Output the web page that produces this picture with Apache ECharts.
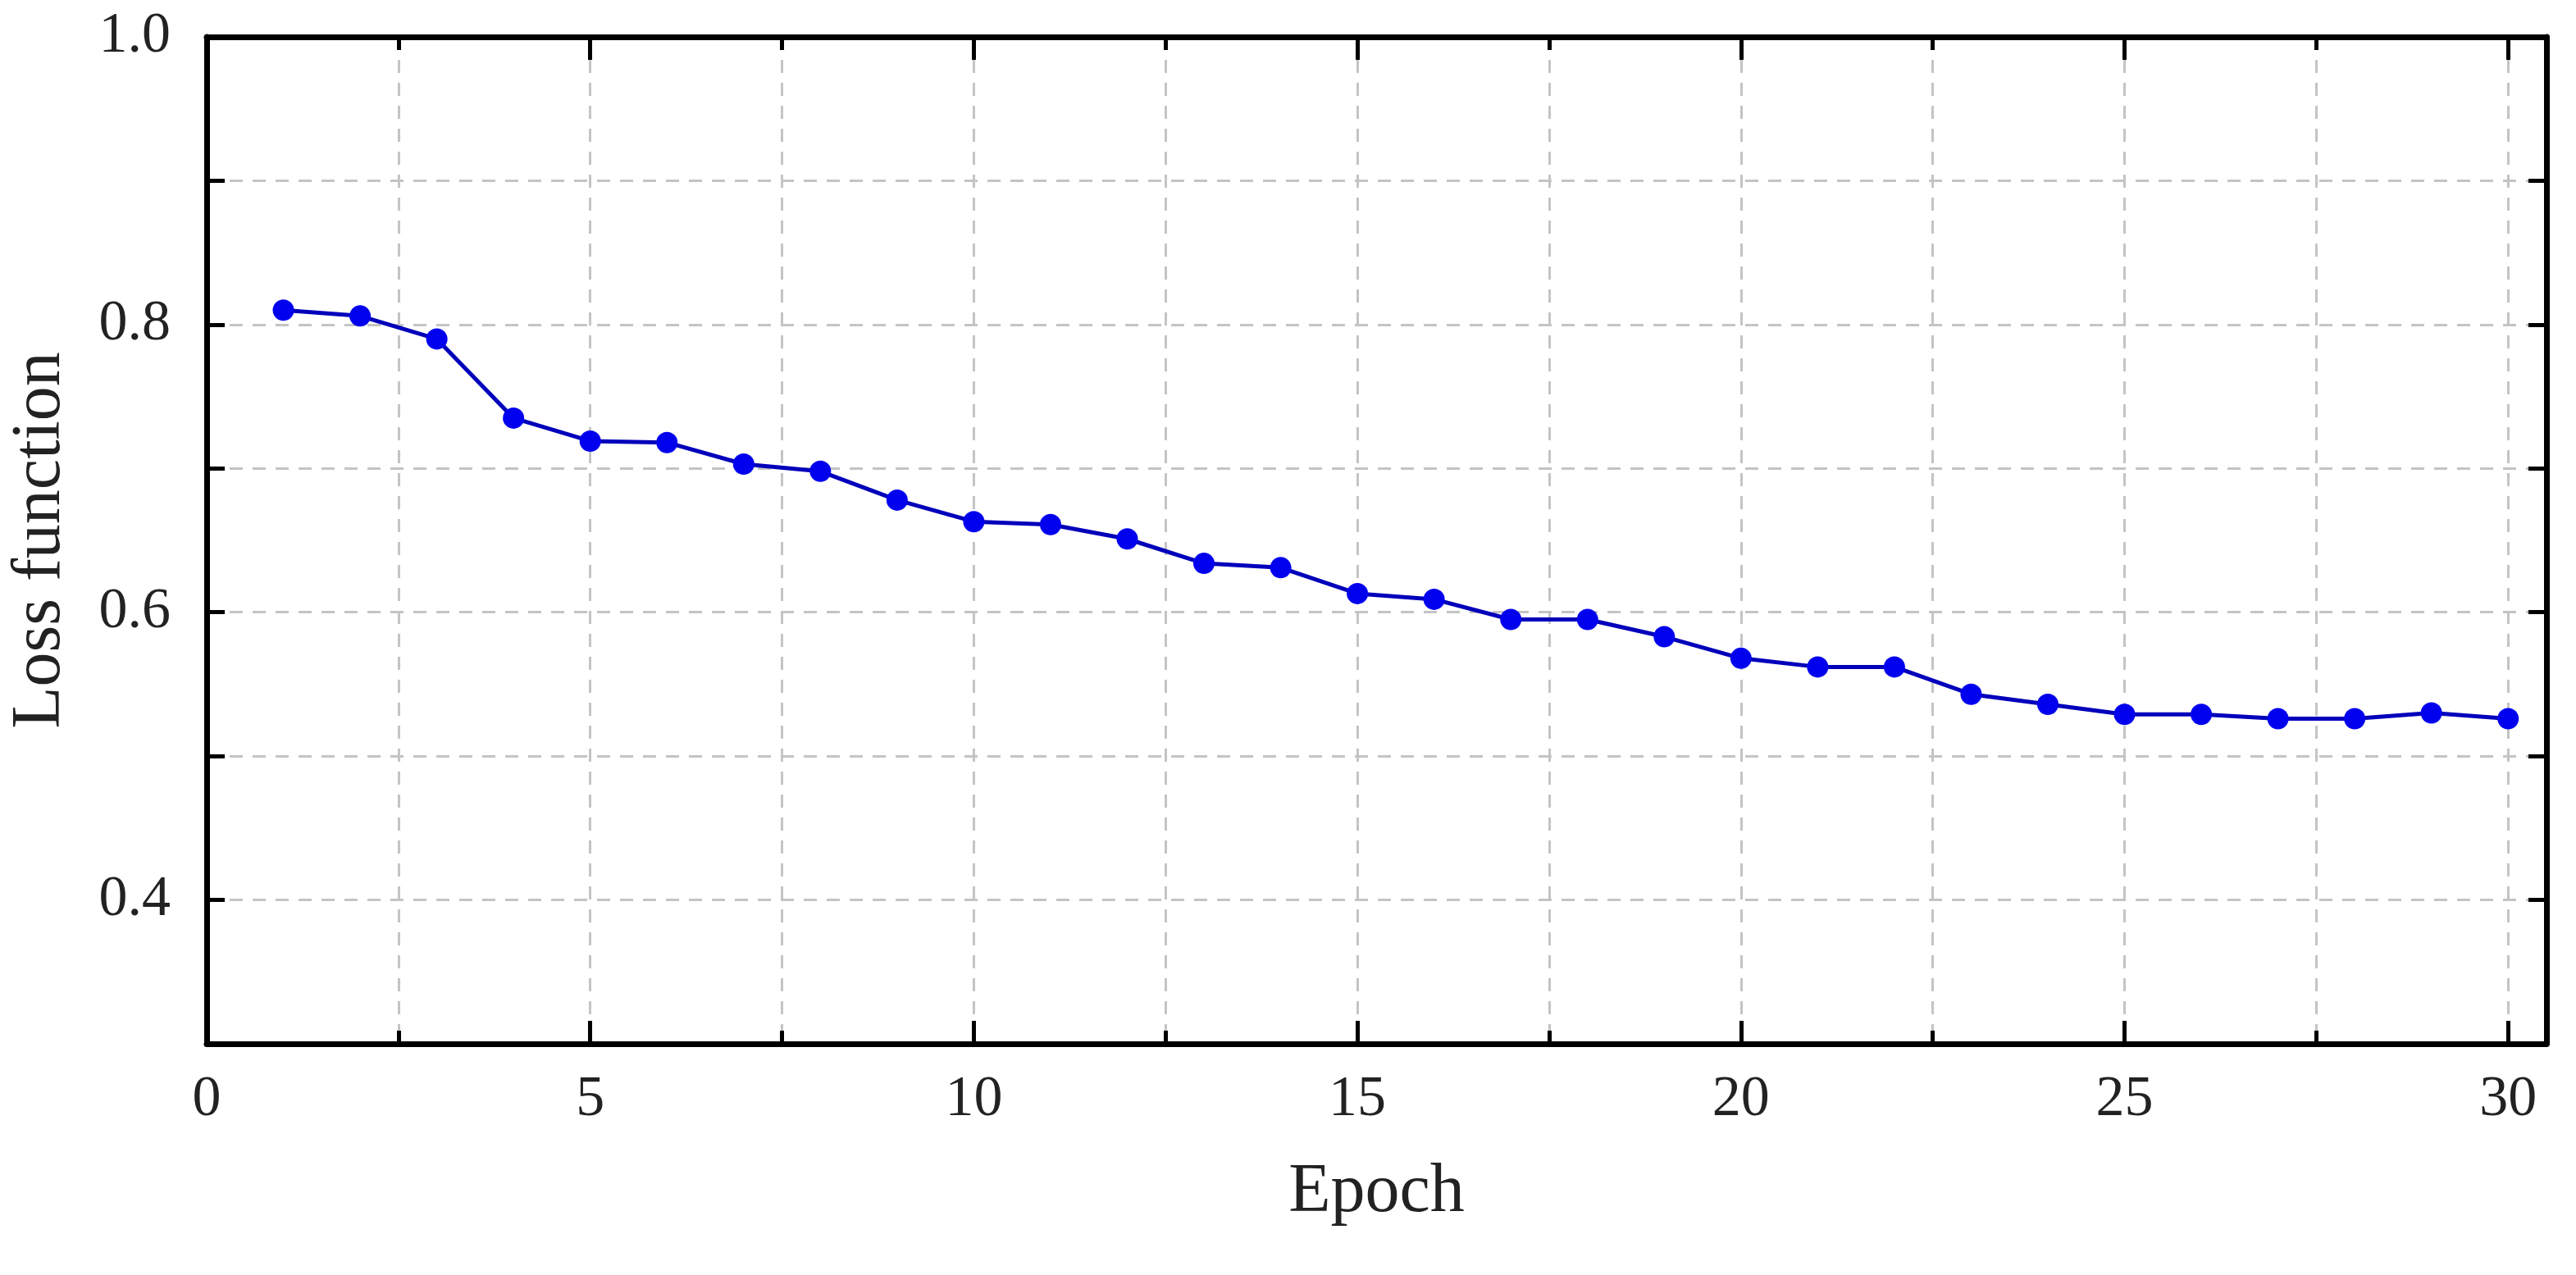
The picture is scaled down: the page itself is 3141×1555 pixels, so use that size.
<!DOCTYPE html>
<html><head><meta charset="utf-8">
<script src="https://cdn.jsdelivr.net/npm/echarts@6/dist/echarts.min.js"></script>
<style>html,body{margin:0;padding:0;background:#fff}#c{width:3141px;height:1555px}</style>
</head><body><div id="c"></div>
<script>
const epochs = [1,2,3,4,5,6,7,8,9,10,11,12,13,14,15,16,17,18,19,20,21,22,23,24,25,26,27,28,29,30];
const loss = [0.810,0.806,0.790,0.735,0.719,0.718,0.703,0.698,0.678,0.663,0.661,0.651,0.634,0.631,0.613,0.609,0.595,0.595,0.583,0.568,0.562,0.562,0.543,0.536,0.529,0.529,0.526,0.526,0.530,0.526];
const yLabels = ['0.4','0.6','0.8','1.0'];

const font = 'Liberation Serif';
const axLine = () => ({show:true,onZero:false,lineStyle:{color:'#000',width:7}});
const grid = () => ({show:true,lineStyle:{color:'#c4c4c4',type:[16,12],width:3}});
const tick = (len) => ({show:true,inside:true,length:len,lineStyle:{width:5,color:'#000'}});
const chart = echarts.init(document.getElementById('c'));
function xAx(pos, main){
  return {type:'value',position:pos,min:0,max:30.5,interval:5,axisLine:axLine(),
    axisTick:tick(28),
    minorTick:{show:true,splitNumber:2,length:16,lineStyle:{width:5,color:'#000'}},
    splitLine:main?grid():{show:false},minorSplitLine:main?grid():{show:false},
    name:main?'Epoch':'',nameLocation:'middle',nameGap:140,
    nameTextStyle:{fontFamily:font,fontSize:84,color:'#222'},
    axisLabel:{show:main,fontFamily:font,fontSize:70,color:'#222',margin:34,
      formatter:v=>(v%5===0&&v<=30)?String(v):''}};
}
function yAx(pos, main){
  return {type:'value',position:pos,min:0.3,max:1.0,interval:0.1,axisLine:axLine(),
    axisTick:tick(22),splitLine:main?grid():{show:false},
    name:main?'Loss function':'',nameLocation:'middle',nameGap:160,
    nameTextStyle:{fontFamily:font,fontSize:84,color:'#222'},
    axisLabel:{show:main,fontFamily:font,fontSize:70,color:'#222',margin:44,
      formatter:v=>{const s=v.toFixed(1);return yLabels.includes(s)?s:'';}}};
}
chart.setOption({
  animation:false,
  grid:{left:250,right:36,top:45,bottom:282},
  xAxis:[xAx('bottom',true),xAx('top',false)],
  yAxis:[yAx('left',true),yAx('right',false)],
  series:[{type:'line',data:epochs.map((e,i)=>[e,loss[i]]),symbol:'circle',symbolSize:26,
    itemStyle:{color:'#0000ee'},lineStyle:{color:'#0000bb',width:5}}]
});
</script></body></html>
